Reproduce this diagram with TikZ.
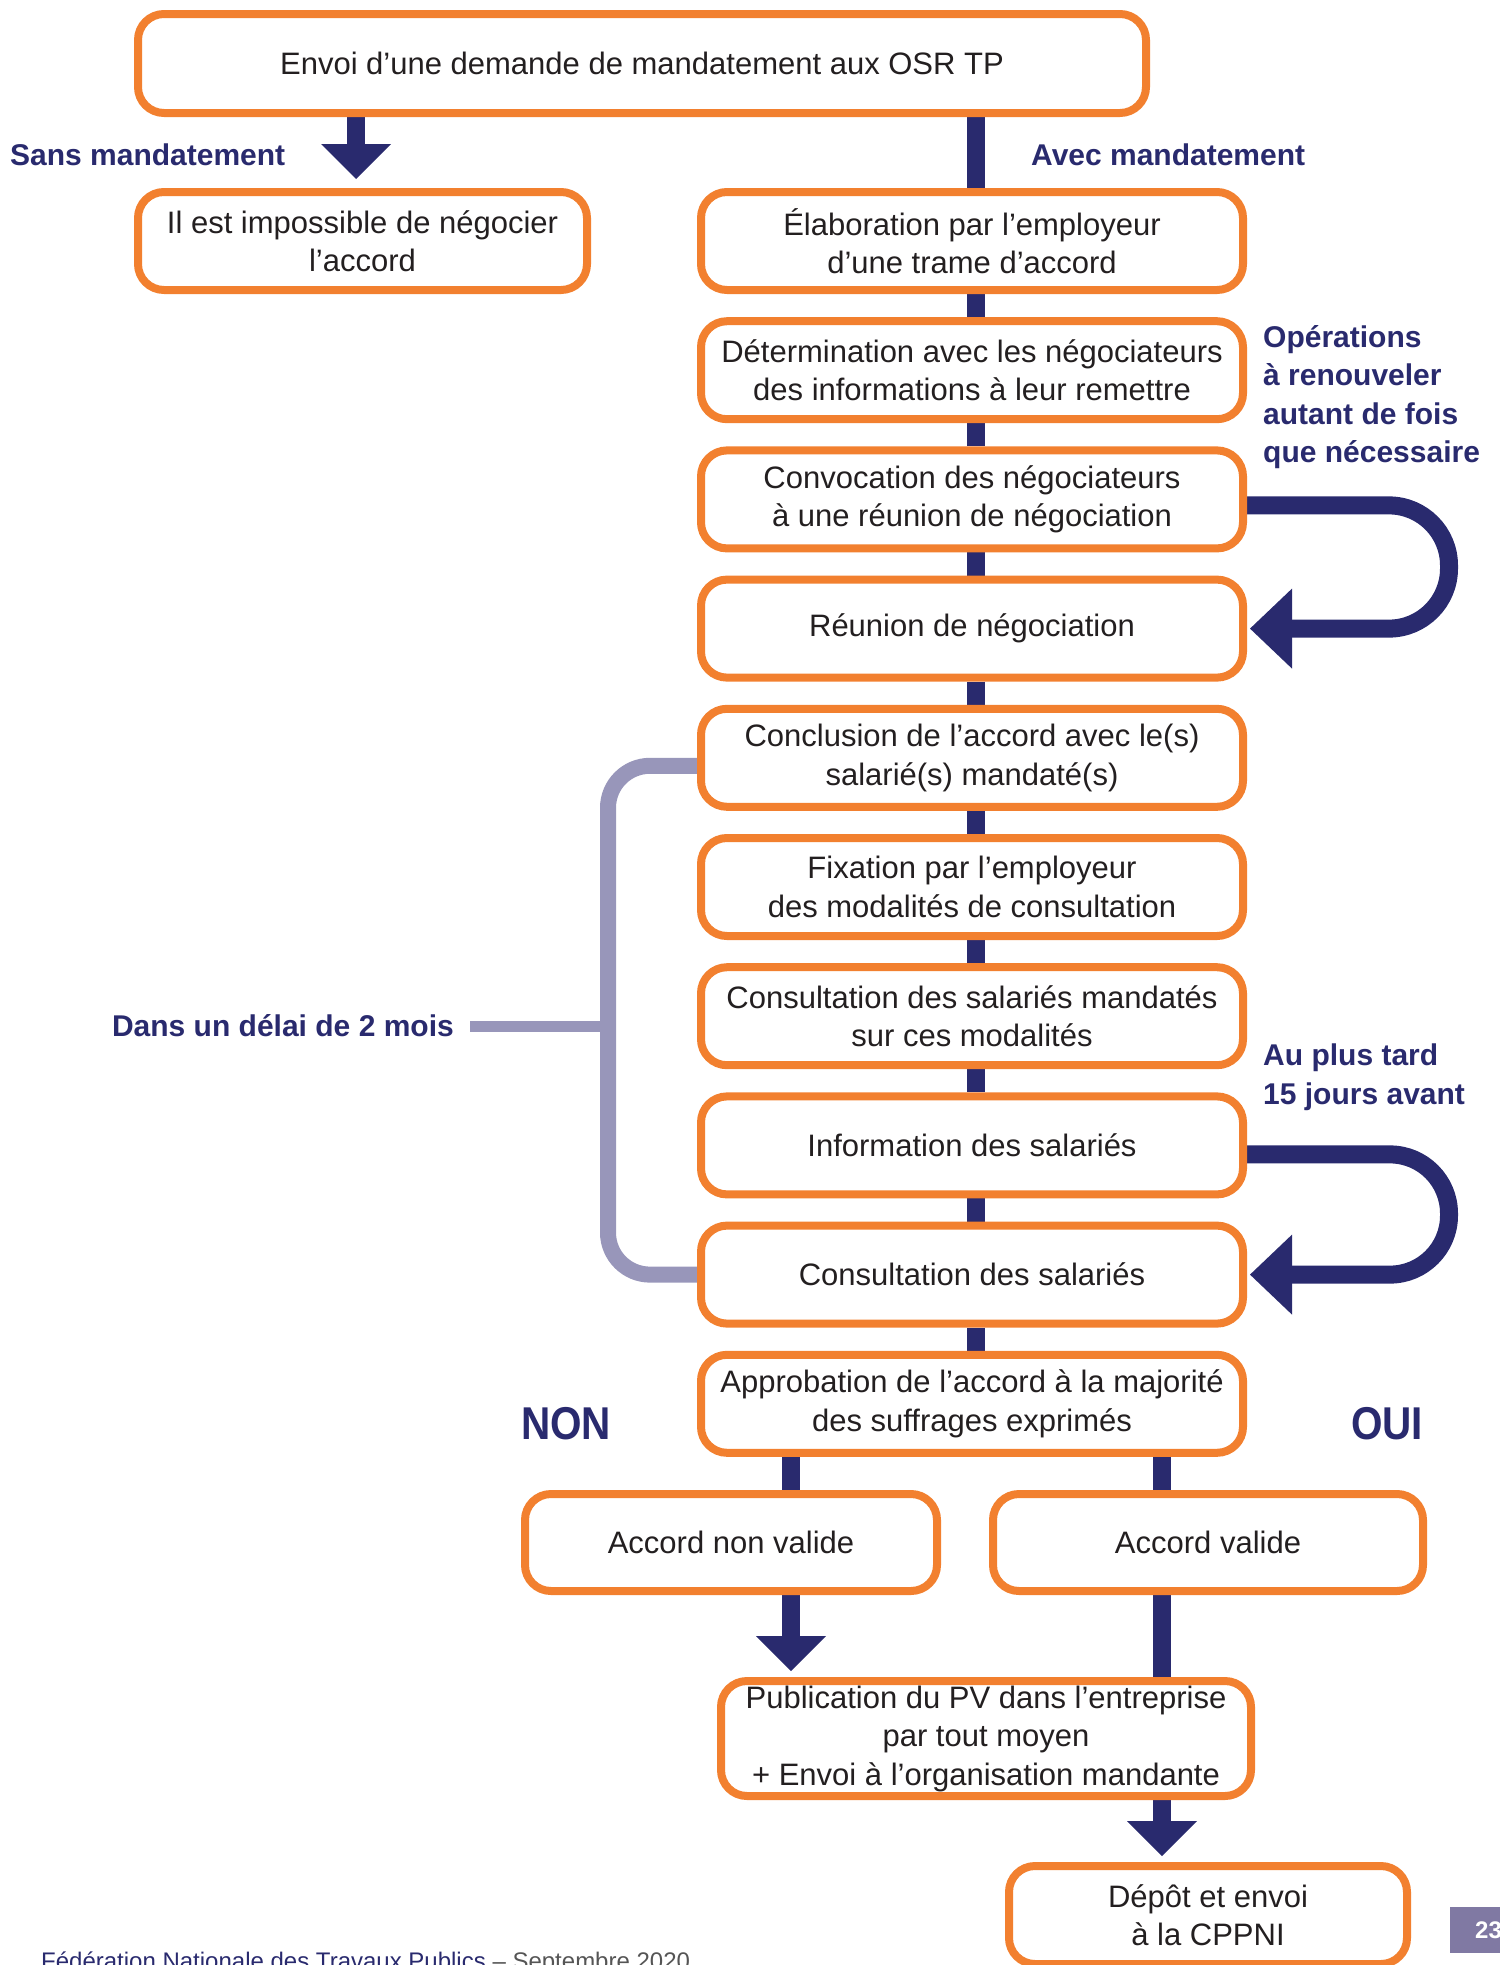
\documentclass[tikz,border=0pt]{standalone}
\usepackage{fontspec}
\setmainfont{Liberation Sans}
\usetikzlibrary{arrows.meta,backgrounds,calc}
\definecolor{orangeB}{HTML}{F2802F}
\definecolor{navy}{HTML}{292A6E}
\definecolor{lav}{HTML}{9896BA}
\definecolor{txt}{HTML}{231F20}
\definecolor{pagebox}{HTML}{8079A3}
\definecolor{footgray}{HTML}{555555}
\begin{document}
\begin{tikzpicture}[x=1pt,y=-1pt,
  box/.style={draw=orangeB, line width=8pt, rounded corners=26pt, fill=white,
    align=center, inner sep=0pt, text=txt, font=\fontsize{31}{38.5}\selectfont},
  colbox/.style={box, minimum width=542pt, minimum height=98pt},
  navyline/.style={draw=navy, line width=18pt},
  arrowA/.style={navyline, -{Triangle[length=35pt,width=70pt,line width=0pt]}},
  loopA/.style={navyline, -{Triangle[length=42pt,width=80pt,line width=0pt]}},
  bracket/.style={draw=lav, line width=16pt},
  lbl/.style={text=navy, inner sep=0pt, font=\bfseries\fontsize{30}{38.5}\selectfont}
]
\useasboundingbox (0,0) rectangle (1500,1965);

% boxes
\node[box, minimum width=1008pt, minimum height=99pt] (top) at (642,63.5) {Envoi d’une demande de mandatement aux OSR TP};
\node[box, minimum width=449pt, minimum height=98pt] (imp) at (362.5,241) {Il est impossible de négocier\\l’accord};
\node[colbox] (elab) at (972,241) {Élaboration par l’employeur\\d’une trame d’accord};
\node[colbox] (det) at (972,370.2) {Détermination avec les négociateurs\\des informations à leur remettre};
\node[colbox] (conv) at (972,499.4) {Convocation des négociateurs\\à une réunion de négociation};
\node[colbox] (reun) at (972,628.6) {Réunion de négociation};
\node[colbox] (conc) at (972,757.8) {Conclusion de l’accord avec le(s)\\salarié(s) mandaté(s)};
\node[colbox] (fix) at (972,887) {Fixation par l’employeur\\des modalités de consultation};
\node[colbox] (consm) at (972,1016.2) {Consultation des salariés mandatés\\sur ces modalités};
\node[colbox] (info) at (972,1145.4) {Information des salariés};
\node[colbox] (cons) at (972,1274.6) {Consultation des salariés};
\node[colbox] (appr) at (972,1403.8) {Approbation de l’accord à la majorité\\des suffrages exprimés};
\node[box, minimum width=412pt, minimum height=97pt] (nonval) at (731,1542.5) {Accord non valide};
\node[box, minimum width=430pt, minimum height=97pt] (val) at (1208,1542.5) {Accord valide};
\node[box, minimum width=530pt, minimum height=115pt] (pub) at (986,1738.5) {Publication du PV dans l’entreprise\\par tout moyen\\+ Envoi à l’organisation mandante};
\node[box, minimum width=398pt, minimum height=98pt] (depot) at (1208,1915) {Dépôt et envoi\\à la CPPNI};

% labels
\node[lbl, anchor=base west] (sans) at (10,165) {Sans mandatement};
\node[lbl, anchor=base west] (avec) at (1031,165) {Avec mandatement};
\node[lbl, anchor=west, align=left] (ops) at (1263,397) {Opérations\\à renouveler\\autant de fois\\que nécessaire};
\node[lbl, anchor=west, align=left, font=\bfseries\fontsize{30}{39}\selectfont] (tard) at (1263,1077.5) {Au plus tard\\15 jours avant};
\node[lbl, anchor=base east] (delai) at (454,1036) {Dans un délai de 2 mois};
\node[lbl, anchor=base west, font=\bfseries\fontsize{46}{46}\selectfont] (non) at (521,1439) {\scalebox{0.88}[1]{NON}};
\node[lbl, anchor=base west, font=\bfseries\fontsize{46}{46}\selectfont] (oui) at (1351,1439) {\scalebox{0.88}[1]{OUI}};

% footer and page number
\node[anchor=base west, inner sep=0pt, font=\fontsize{24}{24}\selectfont] (foot) at (41,1969)
  {\textcolor{navy}{Fédération Nationale des Travaux Publics} \textcolor{footgray}{– Septembre 2020}};
\node[fill=pagebox, minimum width=50pt, minimum height=46pt, inner sep=0pt, anchor=north west] (pgbox) at (1450,1907) {};
\node[anchor=base west, inner sep=0pt, text=white, font=\bfseries\fontsize{24}{24}\selectfont] (pg) at (1475,1938) {23};

% connectors
\begin{scope}[on background layer]
  \coordinate (colx) at (976,0);
  \draw[navyline] (colx |- top.south) -- (colx |- elab.north);
  \foreach \a/\b in {elab/det, det/conv, conv/reun, reun/conc, conc/fix, fix/consm, consm/info, info/cons, cons/appr}
    \draw[navyline] (colx |- \a.south) -- (colx |- \b.north);

  \coordinate (lx) at (356,0);
  \draw[arrowA, shorten >=9pt] (lx |- top.south) -- (lx |- imp.north);

  \coordinate (nx) at (791,0);
  \coordinate (vx) at (1162,0);
  \draw[navyline] (nx |- appr.south) -- (nx |- nonval.north);
  \draw[navyline] (vx |- appr.south) -- (vx |- val.north);
  \draw[arrowA, shorten >=6pt] (nx |- nonval.south) -- (nx |- pub.north);
  \draw[navyline] (vx |- val.south) -- (vx |- pub.north);
  \draw[arrowA, shorten >=6pt] (vx |- pub.south) -- (vx |- depot.north);

  \coordinate (lpx) at (1449,0);
  \coordinate (l1s) at ([yshift=-6pt]conv.east);
  \draw[loopA, rounded corners=60pt, shorten >=3pt] (l1s) -- (l1s -| lpx) |- (reun.east);
  \coordinate (l2s) at ([yshift=-9pt]info.east);
  \draw[loopA, rounded corners=59pt, shorten >=3pt] (l2s) -- (l2s -| lpx) |- (cons.east);

  \coordinate (bx) at (608,0);
  \coordinate (b1) at ([yshift=-8pt]conc.west);
  \draw[bracket, rounded corners=42pt] (b1) -- (b1 -| bx) |- (cons.west);
  \coordinate (stem) at (470,1026);
  \draw[draw=lav, line width=11pt] (stem) -- (stem -| bx);
\end{scope}
\end{tikzpicture}
\end{document}
